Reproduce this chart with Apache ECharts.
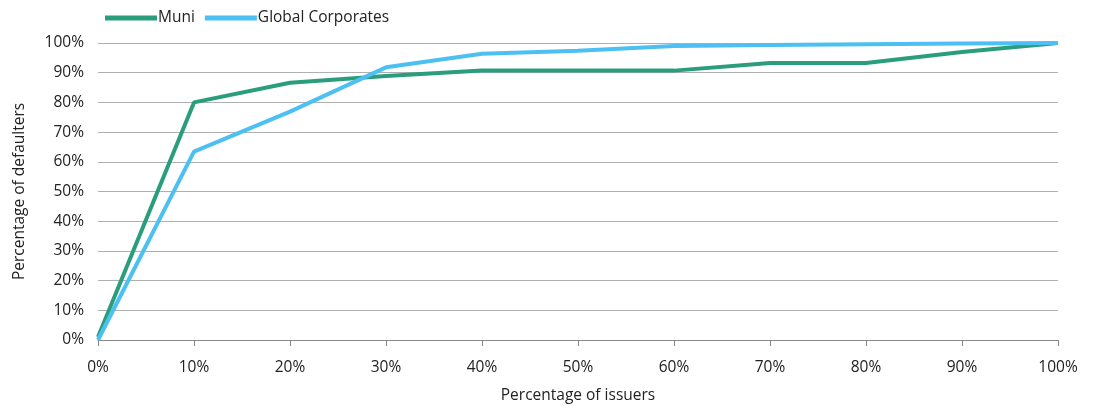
<!DOCTYPE html>
<html><head><meta charset="utf-8">
<script src="https://cdn.jsdelivr.net/npm/echarts@6/dist/echarts.min.js"></script>
<style>html,body{margin:0;padding:0;background:#fff}#c{width:1097px;height:410px}</style>
</head><body><div id="c"></div>
<script>
const xValues = [0,10,20,30,40,50,60,70,80,90,100];
const muni = [1,80,86.6,88.9,90.7,90.7,90.7,93.3,93.3,97,100];
const globalCorp = [0,63.4,76.9,91.8,96.4,97.4,99,99.3,99.6,99.8,100];
const seriesNames = ['Muni','Global Corporates'];
const colors = ['#2a9e7c','#4cc0f2'];
const font = 'Open Sans';
const chart = echarts.init(document.getElementById('c'));
chart.setOption({
  animation:false,
  textStyle:{fontFamily:font},
  legend:{left:100,top:5,itemWidth:52,itemHeight:5,itemGap:10,icon:'rect',
    textStyle:{fontSize:15.5,color:'#222',fontFamily:font,padding:[0,0,0,-4]},
    data:seriesNames},
  grid:{left:98,right:39,top:43,bottom:70},
  xAxis:{type:'value',min:0,max:100,interval:10,
    axisLine:{lineStyle:{color:'#888'}},axisTick:{show:true,length:6,lineStyle:{color:'#888'}},
    splitLine:{show:false},
    axisLabel:{formatter:'{value}%',fontSize:15.5,color:'#222',margin:20},
    name:'Percentage of issuers',nameLocation:'middle',nameGap:48,
    nameTextStyle:{fontSize:15.5,color:'#222'}},
  yAxis:{type:'value',min:0,max:100,interval:10,
    axisLine:{show:false},axisTick:{show:false},
    splitLine:{lineStyle:{color:'#b0b0b0',width:1}},
    axisLabel:{formatter:'{value}%',fontSize:15.5,color:'#222',margin:14},
    name:'Percentage of defaulters',nameLocation:'middle',nameGap:70,
    nameTextStyle:{fontSize:15.5,color:'#222'}},
  series:[
    {name:seriesNames[0],type:'line',symbol:'none',color:colors[0],
     lineStyle:{width:4,color:colors[0]},data:xValues.map((x,i)=>[x,muni[i]])},
    {name:seriesNames[1],type:'line',symbol:'none',color:colors[1],
     lineStyle:{width:4,color:colors[1]},data:xValues.map((x,i)=>[x,globalCorp[i]])}
  ]
});
</script></body></html>
